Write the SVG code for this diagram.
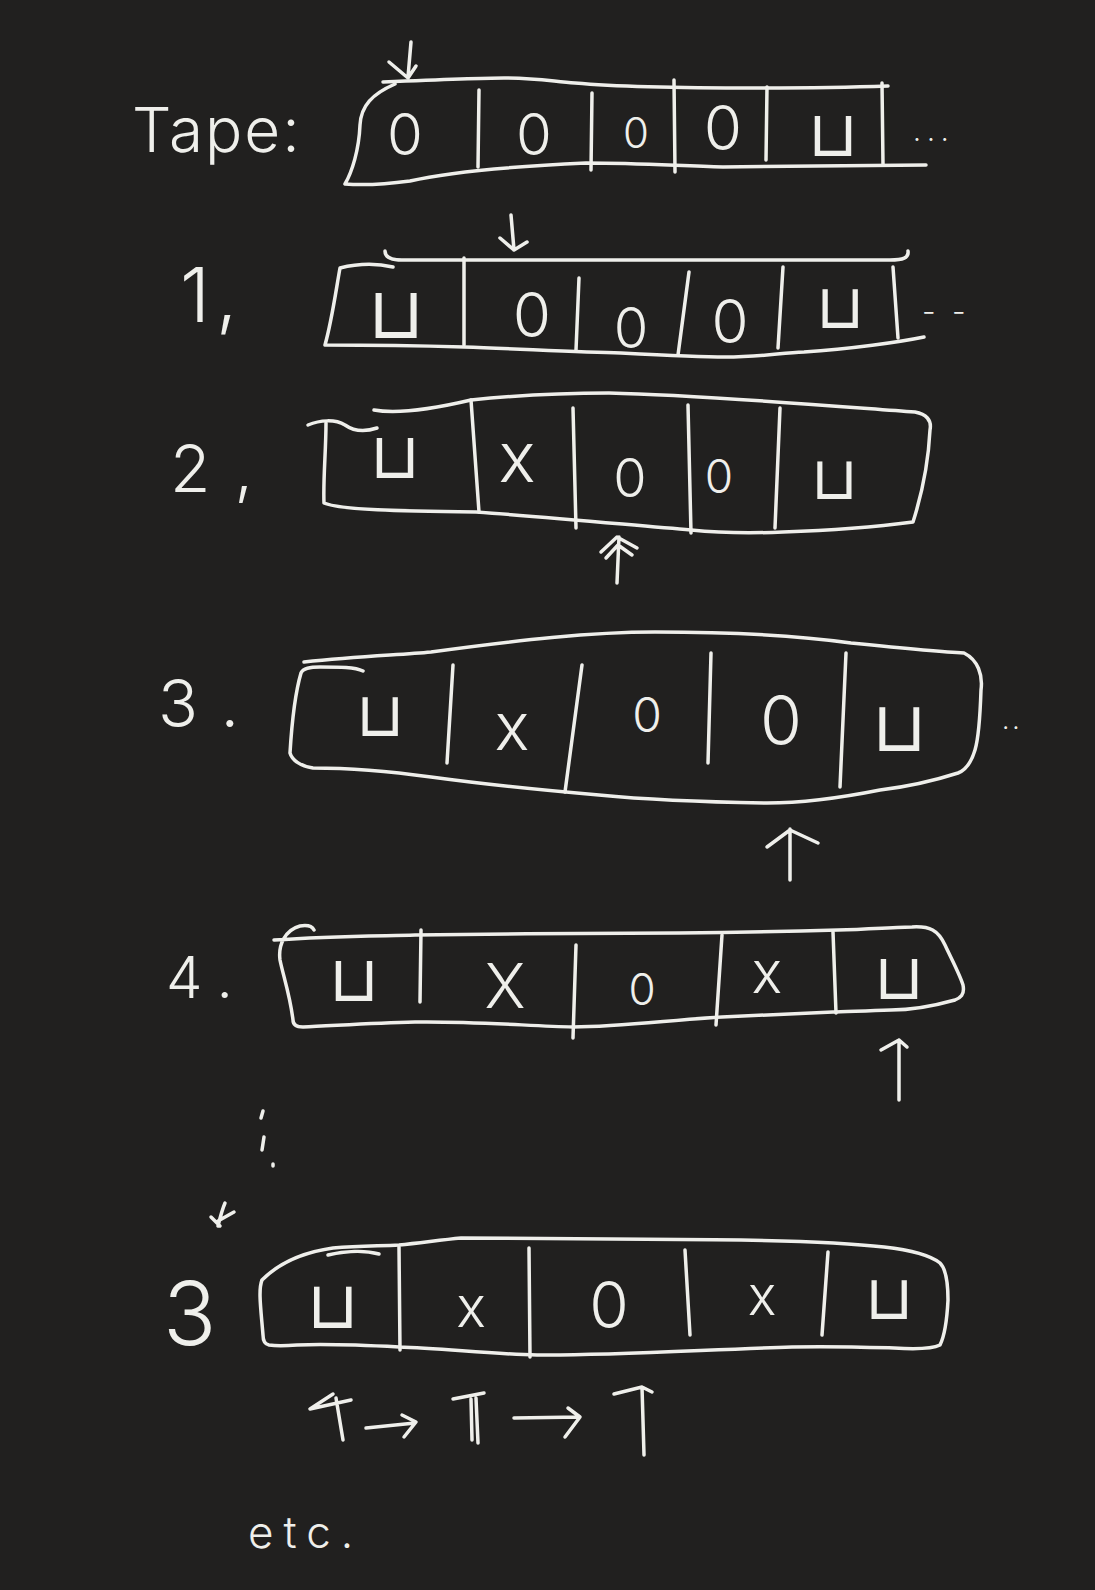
<svg xmlns="http://www.w3.org/2000/svg" width="1095" height="1590" viewBox="0 0 1095 1590">
<style>
.s{fill:none;stroke:#efefeb;stroke-width:3.5;stroke-linecap:round;stroke-linejoin:round}
.t{font-family:Inter,"Liberation Sans","DejaVu Sans",sans-serif;font-weight:300;fill:#efefeb}
.c{text-anchor:middle}
.b{font-family:"DejaVu Sans","Liberation Sans",sans-serif;font-weight:200;fill:#efefeb;text-anchor:middle}
</style>
<rect width="1095" height="1590" fill="#21201f"/>

<g id="tape0">
<text class="t" x="132" y="152" font-size="62" letter-spacing="2">Tape:</text>
<path class="s" d="M383,82 C430,80 480,78 504,78 C540,78 555,82 575,83 C620,87 700,88 756,88 C800,88 860,87 888,86"/>
<path class="s" d="M395,84 C372,94 361,106 360,125 C359,150 352,172 345,184 C370,186 395,183 410,181 C440,174 500,167 586,163 C640,163 680,166 723,167 C800,166 880,165 926,165"/>
<path class="s" d="M479,90 L478,167 M592,93 L591,170 M674,80 L675,172 M767,87 L766,160 M882,83 L883,165"/>
<path class="s" d="M411,42 L408,77 M389,62 L408,78 L416,66"/>
<text class="t c" x="405" y="155" font-size="58">0</text>
<text class="t c" x="534" y="155" font-size="58">0</text>
<text class="t c" x="636" y="148" font-size="42">0</text>
<text class="t c" x="723" y="150" font-size="62" font-weight="600">0</text>
<text class="b" x="833" y="156" font-size="64">⊔</text>
<text class="t" x="913" y="141" font-size="28" letter-spacing="6">...</text>
</g>

<g id="step1">
<text class="t" x="180" y="322" font-size="76">1<tspan dx="6">,</tspan></text>
<path class="s" d="M385,251 C385,257 390,260 402,260 L890,260 C903,260 909,258 908,251"/>
<path class="s" d="M393,267 C380,264 360,263 340,268 C336,290 332,320 325,345 C380,345 430,346 464,347 C520,349 580,352 621,353 C660,355 700,357 725,357 C760,357 780,353 804,352 C850,349 900,342 924,337"/>
<path class="s" d="M464,258 L464,345 M579,278 L576,350 M689,272 L678,355 M783,267 L778,348 M893,267 L898,338"/>
<path class="s" d="M511,215 L514,250 M500,238 L514,250 L527,242"/>
<text class="b" x="396" y="338" font-size="72">⊔</text>
<text class="t c" x="532" y="337" font-size="62">0</text>
<text class="t c" x="631" y="348" font-size="56">0</text>
<text class="t c" x="730" y="343" font-size="60">0</text>
<text class="b" x="840" y="328" font-size="62">⊔</text>
<text class="t" x="922" y="322" font-size="30" letter-spacing="4">- -</text>
</g>

<g id="step2">
<text class="t" x="170" y="492" font-size="66">2<tspan dx="24">,</tspan></text>
<path class="s" d="M308,425 C320,420 335,419 345,425 C355,432 365,432 377,428"/>
<path class="s" d="M374,410 C390,413 420,412 471,400 C520,395 560,393 609,393 C700,395 820,405 915,412 C926,414 932,420 930,430 C928,470 920,500 913,522 C890,525 840,530 783,532 C760,533 720,533 691,530 C640,526 560,518 476,512 C400,511 340,510 324,503 C323,480 326,450 326,423"/>
<path class="s" d="M471,400 L479,512 M573,408 L576,528 M688,405 L691,533 M780,408 L775,528"/>
<path class="s" d="M619,537 L617,583 M601,552 L617,537 L637,548 M606,558 L618,545 L632,555"/>
<text class="b" x="395" y="478" font-size="64">⊔</text>
<text class="t c" x="517" y="482" font-size="70">x</text>
<text class="t c" x="630" y="497" font-size="54">0</text>
<text class="t c" x="719" y="493" font-size="46">0</text>
<text class="b" x="834" y="499" font-size="60">⊔</text>
</g>

<g id="step3">
<text class="t" x="158" y="727" font-size="66">3<tspan dx="24">.</tspan></text>
<path class="s" d="M304,662 C360,656 400,655 431,652 C520,640 590,632 655,632 C740,632 800,636 851,643 C900,648 940,652 964,653 C978,660 983,675 981,690 C980,720 978,740 975,750 C972,760 966,770 958,773 C930,782 905,787 880,790 C840,798 800,803 767,803 C700,802 650,800 599,795 C540,790 490,785 431,777 C380,770 340,768 313,768 C300,766 292,760 290,753 C292,720 296,690 301,673 C303,668 310,667 320,667 C340,667 355,667 363,671"/>
<path class="s" d="M453,665 L447,763 M582,665 L565,792 M711,653 L708,763 M846,653 L840,787"/>
<path class="s" d="M790,829 L790,880 M767,847 L790,830 L818,843"/>
<text class="b" x="380" y="736" font-size="62">⊔</text>
<text class="t c" x="512" y="750" font-size="66">x</text>
<text class="t c" x="647" y="732" font-size="48">0</text>
<text class="t c" x="781" y="745" font-size="68">0</text>
<text class="b" x="899" y="751" font-size="70">⊔</text>
<text class="t" x="1002" y="729" font-size="26" letter-spacing="3">..</text>
</g>

<g id="step4">
<text class="t" x="166" y="998" font-size="58">4<tspan dx="16">.</tspan></text>
<path class="s" d="M274,940 C330,936 380,936 415,935 C500,934 600,933 679,933 C760,932 800,931 838,930 C870,929 900,927 912,927 C930,926 938,930 945,945 C952,960 960,975 963,985 C965,995 960,998 955,1000 C930,1007 910,1010 891,1010 C860,1011 840,1012 833,1012 C790,1014 750,1016 722,1017 C670,1020 620,1027 573,1027 C530,1026 470,1021 415,1022 C370,1023 330,1026 303,1027 C296,1027 293,1024 293,1020 C290,995 283,975 280,960 C278,945 285,930 300,926 C306,925 312,926 314,930"/>
<path class="s" d="M421,930 L420,1002 M576,945 L573,1038 M722,935 L716,1025 M833,932 L836,1013"/>
<path class="s" d="M899,1040 L899,1100 M881,1050 L899,1040 L907,1047"/>
<text class="b" x="354" y="1001" font-size="64">⊔</text>
<text class="t c" x="505" y="1008" font-size="62">X</text>
<text class="t c" x="642" y="1005" font-size="44">0</text>
<text class="t c" x="767" y="993" font-size="58">x</text>
<text class="b" x="899" y="999" font-size="64">⊔</text>
</g>

<g id="ellipsis">
<path class="s" d="M263,1111 L261,1118 M264,1137 L262,1150 M273,1164 L273,1166"/>
<path class="s" d="M225,1203 C222,1210 220,1218 218,1226 M211,1217 L220,1226 M218,1221 L234,1212"/>
</g>

<g id="step5">
<text class="t" x="163" y="1345" font-size="88">3</text>
<path class="s" d="M262,1280 C280,1262 305,1252 333,1248 C360,1246 380,1246 399,1245 C420,1243 440,1240 461,1238 C560,1238 650,1239 741,1240 C800,1241 850,1243 884,1247 C910,1250 930,1255 940,1263 C947,1270 948,1285 948,1300 C947,1320 945,1335 940,1345 C930,1350 910,1349 894,1348 C860,1347 830,1346 792,1347 C700,1350 600,1356 537,1355 C490,1354 440,1348 399,1347 C360,1345 320,1344 297,1345 C285,1346 275,1346 269,1345 C264,1344 263,1340 263,1335 C261,1310 258,1290 262,1280"/>
<path class="s" d="M328,1255 C345,1251 365,1250 379,1254"/>
<path class="s" d="M399,1247 L400,1350 M529,1248 L530,1357 M685,1250 L690,1335 M828,1252 L822,1335"/>
<text class="b" x="333" y="1328" font-size="66">⊔</text>
<text class="t c" x="471" y="1327" font-size="56">x</text>
<text class="t c" x="609" y="1328" font-size="64">0</text>
<text class="t c" x="762" y="1315" font-size="54">x</text>
<text class="b" x="889" y="1319" font-size="62">⊔</text>
</g>

<g id="moves">
<path class="s" d="M333,1394 L310,1409 L351,1400 M336,1398 L343,1440"/>
<path class="s" d="M366,1428 L415,1423 M402,1415 L416,1422 L404,1437"/>
<path class="s" d="M453,1399 L484,1393 M476,1398 L478,1443 M471,1399 L472,1440"/>
<path class="s" d="M514,1418 L580,1417 M568,1408 L580,1417 L565,1437"/>
<path class="s" d="M642,1387 L644,1455 M614,1394 L642,1387 L652,1392"/>
<text class="t" x="248" y="1548" font-size="44" letter-spacing="10">etc.</text>
</g>
</svg>
